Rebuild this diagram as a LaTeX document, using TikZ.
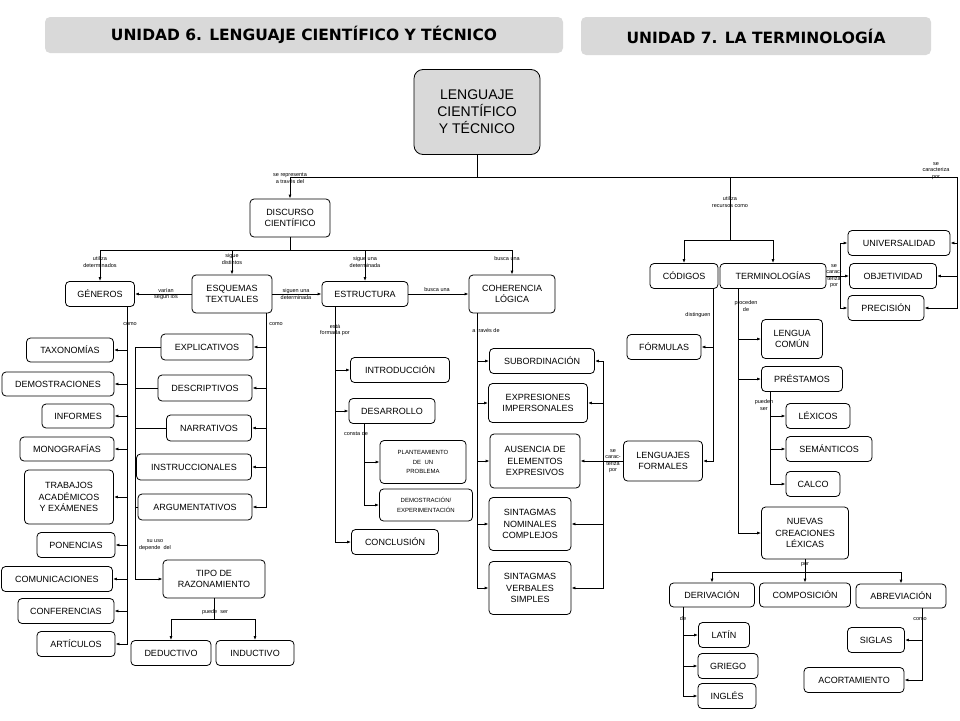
\documentclass[tikz,border=0pt]{standalone}
\usepackage{fontspec}
\setmainfont{Liberation Sans}
\newfontfamily\titlefont{DejaVu Sans}
\usetikzlibrary{arrows.meta}
\newcommand\fsz[2]{\fontsize{#1}{#2}\selectfont}
\tikzset{
  box/.style={draw, rounded corners=4pt, align=center, inner sep=1pt, font=\fsz{9}{11.5}},
  title/.style={fill=black!15, rounded corners=5pt, inner sep=0pt, font=\titlefont\bfseries\fsz{15.5}{18}},
  lbl/.style={font=\fsz{5.5}{6.5}, align=center, inner sep=0pt},
  arr/.style={-{Latex[length=4pt,width=3pt]}},
}
\begin{document}
\begin{tikzpicture}[x=1pt,y=-1pt, line width=0.8pt]
\useasboundingbox (0,0) rectangle (960,720);
% titulos
\node[title, minimum width=518, minimum height=36] (t6) at (304,35) {UNIDAD 6. LENGUAJE CIENTÍFICO Y TÉCNICO};
\node[title, minimum width=350, minimum height=38] (t7) at (756,36) {UNIDAD 7. LA TERMINOLOGÍA};
\node[box, fill=black!15, rounded corners=9pt, minimum width=126, minimum height=85, font=\fsz{14}{17}] (len) at (477,112) {LENGUAJE\\CIENTÍFICO\\Y TÉCNICO};

% nodos principales
\node[box, minimum width=80, minimum height=38] (dis) at (290,218) {DISCURSO\\CIENTÍFICO};
\node[box, minimum width=69, minimum height=25] (gen) at (100,294) {GÉNEROS};
\node[box, minimum width=80, minimum height=38] (esq) at (232,294) {ESQUEMAS\\TEXTUALES};
\node[box, minimum width=86, minimum height=25] (est) at (365,294) {ESTRUCTURA};
\node[box, minimum width=86, minimum height=38] (coh) at (512,294) {COHERENCIA\\LÓGICA};
\node[box, minimum width=68, minimum height=25] (cod) at (684,276) {CÓDIGOS};
\node[box, minimum width=106, minimum height=25] (ter) at (773,276) {TERMINOLOGÍAS};

% generos
\node[box, minimum width=87, minimum height=24] (tax) at (70,350) {TAXONOMÍAS};
\node[box, minimum width=112, minimum height=24] (dem) at (58,384) {DEMOSTRACIONES};
\node[box, minimum width=72, minimum height=24] (inf) at (78,416) {INFORMES};
\node[box, minimum width=94, minimum height=24] (mon) at (67,449) {MONOGRAFÍAS};
\node[box, minimum width=89, minimum height=54] (tra) at (69,497) {TRABAJOS\\ACADÉMICOS\\Y EXÁMENES};
\node[box, minimum width=78, minimum height=25] (pon) at (76,545) {PONENCIAS};
\node[box, minimum width=111, minimum height=25] (com) at (57,579) {COMUNICACIONES};
\node[box, minimum width=96, minimum height=25] (con) at (66,611) {CONFERENCIAS};
\node[box, minimum width=78, minimum height=25] (art) at (76,644) {ARTÍCULOS};

% esquemas
\node[box, minimum width=92, minimum height=26] (exp) at (207,347) {EXPLICATIVOS};
\node[box, minimum width=94, minimum height=26] (des) at (205,388) {DESCRIPTIVOS};
\node[box, minimum width=85, minimum height=26] (nar) at (209,428) {NARRATIVOS};
\node[box, minimum width=115, minimum height=26] (ins) at (194,467) {INSTRUCCIONALES};
\node[box, minimum width=114, minimum height=26] (arg) at (195,507) {ARGUMENTATIVOS};
\node[box, minimum width=102, minimum height=38] (tip) at (214,579) {TIPO DE\\RAZONAMIENTO};
\node[box, minimum width=80, minimum height=25] (ded) at (171,653) {DEDUCTIVO};
\node[box, minimum width=78, minimum height=25] (ind) at (255,653) {INDUCTIVO};

% estructura
\node[box, minimum width=99, minimum height=25] (intro) at (400,370) {INTRODUCCIÓN};
\node[box, minimum width=86, minimum height=25] (desa) at (392,411) {DESARROLLO};
\node[box, minimum width=86, minimum height=43, font=\fsz{6}{9.5}] (plan) at (423,462) {PLANTEAMIENTO\\DE \ UN\\PROBLEMA};
\node[box, minimum width=93, minimum height=32, font=\fsz{6}{9.5}] (demo) at (426,505) {DEMOSTRACIÓN/\\EXPERIMENTACIÓN};
\node[box, minimum width=87, minimum height=25] (conc) at (395,542) {CONCLUSIÓN};

% coherencia
\node[box, minimum width=105, minimum height=25] (sub) at (542,361) {SUBORDINACIÓN};
\node[box, minimum width=99, minimum height=39] (exr) at (538,403) {EXPRESIONES\\IMPERSONALES};
\node[box, minimum width=90, minimum height=54] (aus) at (535,461) {AUSENCIA DE\\ELEMENTOS\\EXPRESIVOS};
\node[box, minimum width=82, minimum height=53] (snom) at (530,524) {SINTAGMAS\\NOMINALES\\COMPLEJOS};
\node[box, minimum width=82, minimum height=53] (sver) at (530,588) {SINTAGMAS\\VERBALES\\SIMPLES};
\node[box, minimum width=79, minimum height=40] (lfo) at (663,461) {LENGUAJES\\FORMALES};
\node[box, minimum width=74, minimum height=25] (for) at (664,347) {FÓRMULAS};

% terminologias
\node[box, minimum width=102, minimum height=25] (uni) at (899,243) {UNIVERSALIDAD};
\node[box, minimum width=87, minimum height=25] (obj) at (893,276) {OBJETIVIDAD};
\node[box, minimum width=76, minimum height=25] (pre) at (886,308) {PRECISIÓN};
\node[box, minimum width=61, minimum height=39] (lco) at (792,339) {LENGUA\\COMÚN};
\node[box, minimum width=81, minimum height=25] (pres) at (802,379) {PRÉSTAMOS};
\node[box, minimum width=64, minimum height=25] (lex) at (818,416) {LÉXICOS};
\node[box, minimum width=86, minimum height=25] (sem) at (829,449) {SEMÁNTICOS};
\node[box, minimum width=54, minimum height=25] (cal) at (813,484) {CALCO};
\node[box, minimum width=87, minimum height=52] (nue) at (805,533) {NUEVAS\\CREACIONES\\LÉXICAS};
\node[box, minimum width=85, minimum height=24] (der) at (712,595) {DERIVACIÓN};
\node[box, minimum width=91, minimum height=24] (comp) at (805,595) {COMPOSICIÓN};
\node[box, minimum width=90, minimum height=24] (abr) at (901,596) {ABREVIACIÓN};
\node[box, minimum width=51, minimum height=25] (lat) at (724,635) {LATÍN};
\node[box, minimum width=60, minimum height=25] (gri) at (728,666) {GRIEGO};
\node[box, minimum width=58, minimum height=25] (ing) at (727,696) {INGLÉS};
\node[box, minimum width=57, minimum height=25] (sig) at (876,640) {SIGLAS};
\node[box, minimum width=100, minimum height=25] (aco) at (854,680) {ACORTAMIENTO};

% puntos de union
\coordinate (topl) at (290,177);
\coordinate (topr) at (957,177);
\coordinate (rec) at (730,177);
\coordinate (recb) at (730,240);
\coordinate (dbus) at (290,250);
\coordinate (gbus) at (127,306);
\coordinate (ebus) at (266,313);
\coordinate (lbus) at (135,347);
\coordinate (tbus) at (214,619);
\coordinate (sbus) at (335,306);
\coordinate (dsbus) at (364,423);
\coordinate (cbus) at (477,313);
\coordinate (fbus) at (603,461);
\coordinate (cdbus) at (713,288);
\coordinate (trbus) at (840,276);
\coordinate (pbus) at (738,288);
\coordinate (prbus) at (770,392);
\coordinate (nbus) at (805,572);
\coordinate (dvbus) at (683,607);
\coordinate (abus) at (922,608);

% conectores
\draw (len.south) -- (len.south |- topl);
\draw (topl) -- (topr);
\draw[arr] (topl) -- (dis.north);
\foreach \n in {uni,obj,pre} \draw[arr] (topr) |- (\n.east);
\draw (rec) -- (recb);
\draw[arr] (recb) -| (cod.north);
\draw[arr] (recb) -| (ter.north);
\draw (dis) -- (dbus);
\foreach \n in {gen,esq,est,coh} \draw[arr] (dbus) -| (\n.north);
\draw[arr] (esq) -- (gen);
\draw[arr] (esq) -- (est);
\draw[arr] (est) -- (coh);
\foreach \n in {tax,dem,inf,mon,tra,pon,com,con,art} \draw[arr] (gbus) |- (\n.east);
\foreach \n in {exp,des,nar,ins,arg} \draw[arr] (ebus) |- (\n.east);
\foreach \n in {exp,des,nar,ins,arg} \draw (\n.west) -| (lbus);
\draw[arr] (lbus) |- (tip.west);
\draw (tip) -- (tbus);
\draw[arr] (tbus) -| (ded.north);
\draw[arr] (tbus) -| (ind.north);
\foreach \n in {intro,desa,conc} \draw[arr] (sbus) |- (\n.west);
\foreach \n in {plan,demo} \draw[arr] (dsbus) |- (\n.west);
\foreach \n in {sub,exr,aus,snom,sver} \draw[arr] (cbus) |- (\n.west);
\draw[arr] (lfo) -- (aus);
\foreach \n in {sub,exr,snom,sver} \draw[arr] (fbus) |- (\n.east);
\draw[arr] (cdbus) |- (for.east);
\draw[arr] (cdbus) |- (lfo.east);
\draw (ter) -- (trbus);
\foreach \n in {uni,obj,pre} \draw[arr] (trbus) |- (\n.west);
\foreach \n in {lco,pres,nue} \draw[arr] (pbus) |- (\n.west);
\foreach \n in {lex,sem,cal} \draw[arr] (prbus) |- (\n.west);
\draw (nue) -- (nbus);
\foreach \n in {der,comp,abr} \draw[arr] (nbus) -| (\n.north);
\foreach \n in {lat,gri,ing} \draw[arr] (dvbus) |- (\n.west);
\foreach \n in {sig,aco} \draw[arr] (abus) |- (\n.east);

% etiquetas
\node[lbl] (l1) at (290,178) {se representa\\[1pt]a través del};
\node[lbl] (l2) at (936,171) {se\\caracteriza\\por};
\node[lbl] (l3) at (730,202) {utiliza\\recursos como};
\node[lbl] (l4) at (100,262) {utiliza\\determinados};
\node[lbl] (l5) at (232,259) {sigue\\distintos};
\node[lbl] (l6) at (365,262) {sigue una\\determinada};
\node[lbl] (l7) at (507,259) {busca una};
\node[lbl] (l8) at (166,294) {varían\\según los};
\node[lbl] (l9) at (296,294) {siguen una\\determinada};
\node[lbl] (l10) at (437,290) {busca una};
\node[lbl] (l11) at (130,324) {como};
\node[lbl] (l12) at (276,324) {como};
\node[lbl] (l13) at (155,545) {su uso\\depende \ del};
\node[lbl] (l14) at (215,612) {puede \ ser};
\node[lbl] (l15) at (335,330) {está\\formada por};
\node[lbl] (l16) at (356,434) {consta de};
\node[lbl] (l17) at (486,330) {a través de};
\node[lbl] (l18) at (613,461) {se\\carac-\\teriza\\por};
\node[lbl] (l19) at (698,315) {distinguen};
\node[lbl] (l20) at (834,276) {se\\carac-\\teriza\\por};
\node[lbl] (l21) at (746,306) {proceden\\de};
\node[lbl] (l22) at (764,405) {pueden\\ser};
\node[lbl] (l23) at (805,565) {por};
\node[lbl] (l24) at (683,619) {de};
\node[lbl] (l25) at (920,619) {como};
\end{tikzpicture}
\end{document}
